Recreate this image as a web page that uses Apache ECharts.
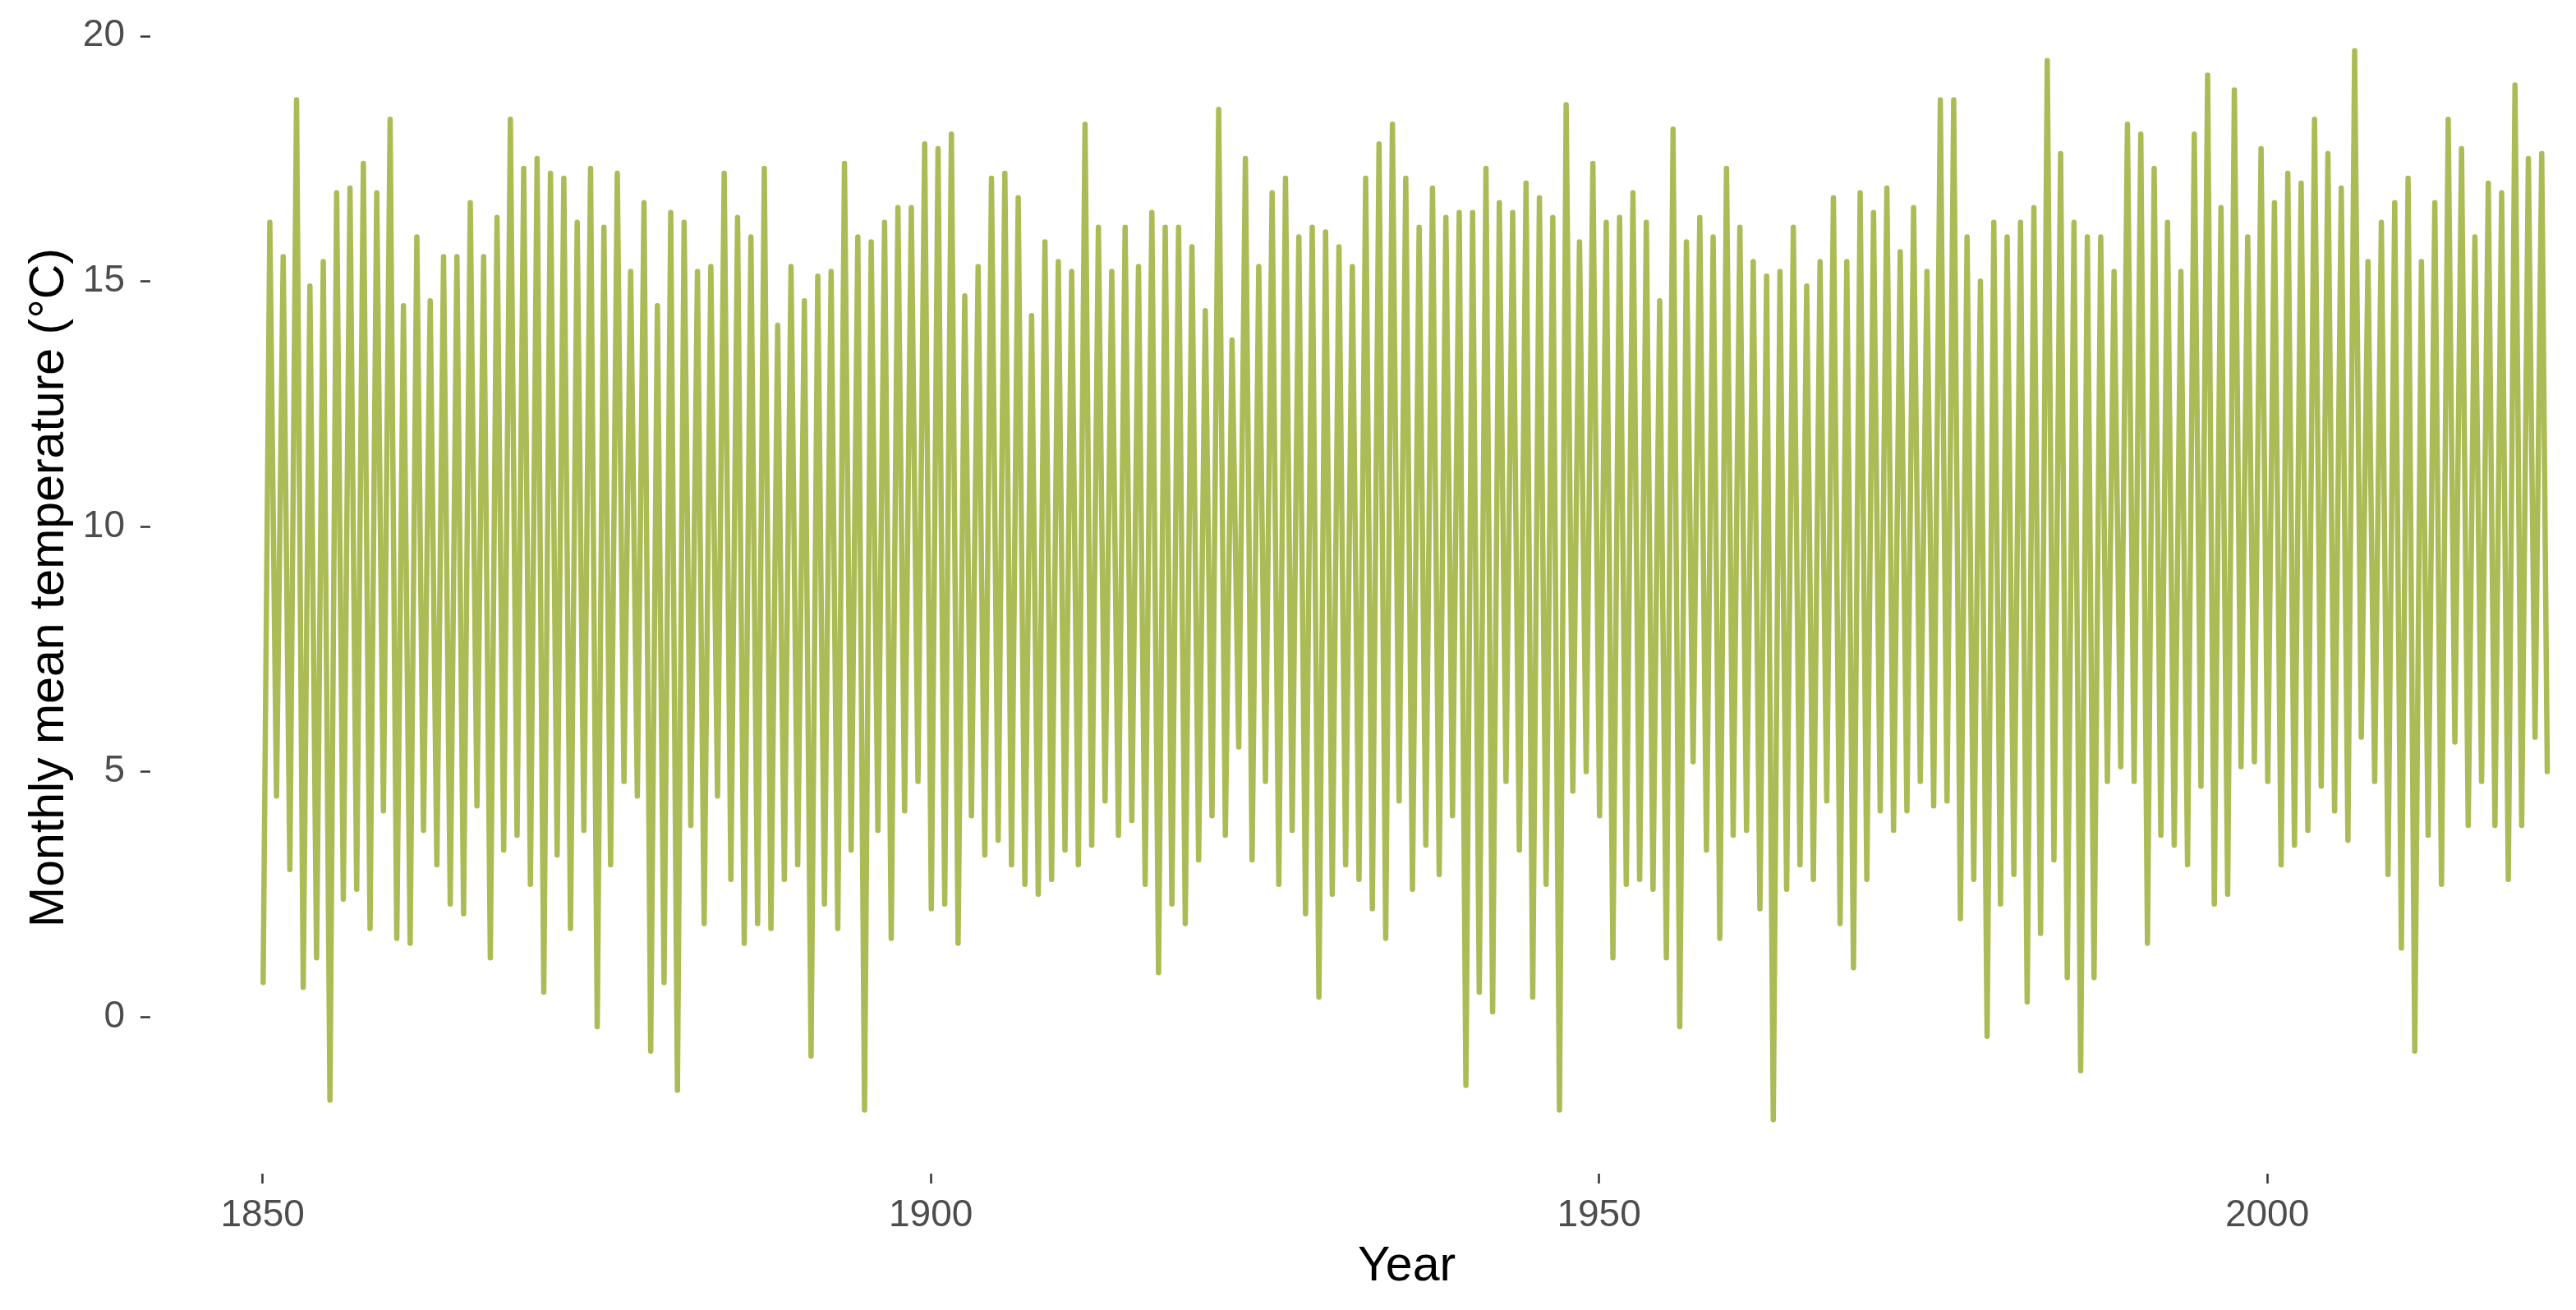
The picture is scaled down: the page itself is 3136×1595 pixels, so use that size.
<!DOCTYPE html>
<html>
<head>
<meta charset="utf-8">
<script src="https://cdn.jsdelivr.net/npm/echarts@6/dist/echarts.min.js"></script>
<style>
  html, body { margin: 0; padding: 0; background: #fff; }
  #chart { width: 3136px; height: 1595px; }
</style>
</head>
<body>
<div id="chart"></div>
<script>
// years shown, one winter low and one summer high for each
const firstYear = 1850
const lastYear = 2020

// coldest month of each winter (Jan of that year, deg C)
const winterMin = [
  0.7, 4.5, 3.0, 0.6, 1.2, -1.7, 2.4, 2.6, 1.8, 4.2,   // 1850s
  1.6, 1.5, 3.8, 3.1, 2.3, 2.1, 4.3, 1.2, 3.4, 3.7,    // 1860s
  2.7, 0.5, 3.3, 1.8, 3.8, -0.2, 3.1, 4.8, 4.5, -0.7,  // 1870s
  0.7, -1.5, 3.9, 1.9, 4.5, 2.8, 1.5, 1.9, 1.8, 2.8,   // 1880s
  3.1, -0.8, 2.3, 1.8, 3.4, -1.9, 3.8, 1.6, 4.2, 4.8,  // 1890s
  2.2, 2.3, 1.5, 4.1, 3.3, 3.6, 3.1, 2.7, 2.5, 2.8,    // 1900s
  3.4, 3.1, 3.5, 4.4, 3.7, 4.0, 2.7, 0.9, 2.3, 1.9,    // 1910s
  3.2, 4.1, 3.7, 5.5, 3.2, 4.8, 2.7, 3.8, 2.1, 0.4,    // 1920s
  2.5, 3.1, 2.8, 2.2, 1.6, 4.4, 2.6, 3.5, 2.9, 4.1,    // 1930s
  -1.4, 0.5, 0.1, 4.8, 3.4, 0.4, 2.7, -1.9, 4.6, 5.0,  // 1940s
  4.1, 1.2, 2.7, 2.8, 2.6, 1.2, -0.2, 5.2, 3.4, 1.6,   // 1950s
  3.7, 3.8, 2.2, -2.1, 2.6, 3.1, 2.8, 4.4, 1.9, 1.0,   // 1960s
  2.8, 4.2, 3.8, 4.2, 4.8, 4.3, 4.4, 2.0, 2.8, -0.4,   // 1970s
  2.3, 2.9, 0.3, 1.7, 3.2, 0.8, -1.1, 0.8, 4.8, 5.1,   // 1980s
  4.8, 1.5, 3.7, 3.5, 3.1, 4.7, 2.3, 2.5, 5.1, 5.2,    // 1990s
  4.8, 3.1, 3.5, 3.8, 4.7, 4.2, 3.6, 5.7, 4.8, 2.9,    // 2000s
  1.4, -0.7, 3.7, 2.7, 5.6, 3.9, 4.8, 3.9, 2.8, 3.9,   // 2010s
  5.7                                                  // 2020
]

// warmest month of each summer (Jul of that year, deg C)
const summerMax = [
  16.2, 15.5, 18.7, 14.9, 15.4, 16.8, 16.9, 17.4, 16.8, 18.3,  // 1850s
  14.5, 15.9, 14.6, 15.5, 15.5, 16.6, 15.5, 16.3, 18.3, 17.3,  // 1860s
  17.5, 17.2, 17.1, 16.2, 17.3, 16.1, 17.2, 15.2, 16.6, 14.5,  // 1870s
  16.4, 16.2, 15.2, 15.3, 17.2, 16.3, 15.9, 17.3, 14.1, 15.3,  // 1880s
  14.6, 15.1, 15.2, 17.4, 15.9, 15.8, 16.2, 16.5, 16.5, 17.8,  // 1890s
  17.7, 18.0, 14.7, 15.3, 17.1, 17.2, 16.7, 14.3, 15.8, 15.4,  // 1900s
  15.2, 18.2, 16.1, 15.2, 16.1, 15.3, 16.4, 16.1, 16.1, 15.7,  // 1910s
  14.4, 18.5, 13.8, 17.5, 15.3, 16.8, 17.1, 15.9, 16.1, 16.0,  // 1920s
  15.7, 15.3, 17.1, 17.8, 18.2, 17.1, 16.1, 16.9, 16.3, 16.4,  // 1930s
  16.4, 17.3, 16.6, 16.4, 17.0, 16.7, 16.3, 18.6, 15.8, 17.4,  // 1940s
  16.2, 16.3, 16.8, 16.2, 14.6, 18.1, 15.8, 16.3, 15.9, 17.3,  // 1950s
  16.1, 15.4, 15.1, 15.2, 16.1, 14.9, 15.4, 16.7, 15.4, 16.8,  // 1960s
  16.4, 16.9, 15.6, 16.5, 15.2, 18.7, 18.7, 15.9, 15.0, 16.2,  // 1970s
  15.9, 16.2, 16.5, 19.5, 17.6, 16.2, 15.9, 15.9, 15.2, 18.2,  // 1980s
  18.0, 17.3, 16.2, 15.2, 18.0, 19.2, 16.5, 18.9, 15.9, 17.7,  // 1990s
  16.6, 17.2, 17.0, 18.3, 17.6, 16.9, 19.7, 15.4, 16.2, 16.6,  // 2000s
  17.1, 15.4, 16.6, 18.3, 17.7, 15.9, 17.0, 16.8, 19.0, 17.5,  // 2010s
  17.6                                                         // 2020
]

// the series closes on December 2020
const lastMonthValue = 5.0

const yearTicks = [1850, 1900, 1950, 2000]
const tempTicks = [0, 5, 10, 15, 20]

// month (1-12) -> decimal year at mid-month
const at = (year, month) => year + (month - 0.5) / 12

const points = []
for (let i = 0; i <= lastYear - firstYear; i++) {
  const y = firstYear + i
  points.push([at(y, 1), winterMin[i]])
  points.push([at(y, 7), summerMax[i]])
}
points.push([at(lastYear, 12), lastMonthValue])

const font = 'Liberation Sans, Arial, sans-serif'
const chart = echarts.init(document.getElementById('chart'))
chart.setOption({
  animation: false,
  backgroundColor: '#ffffff',
  grid: { left: 183, right: 18, top: 2, bottom: 166 },
  xAxis: {
    type: 'value',
    min: 1841.6,
    max: 2022,
    name: 'Year',
    nameLocation: 'middle',
    nameGap: 84,
    nameTextStyle: { fontFamily: font, fontSize: 59, color: '#000', padding: [0, 0, 0, 124] },
    axisLine: { show: false, onZero: false },
    splitLine: { show: false },
    axisTick: { show: true, customValues: yearTicks, length: 12, lineStyle: { color: '#333333', width: 2.5 } },
    axisLabel: {
      customValues: yearTicks, formatter: v => String(v),
      fontFamily: font, fontSize: 46, color: '#4d4d4d', margin: 28
    }
  },
  yAxis: {
    type: 'value',
    min: -3.2,
    max: 20.7,
    name: 'Monthly mean temperature (°C)',
    nameLocation: 'middle',
    nameGap: 93,
    nameTextStyle: { fontFamily: font, fontSize: 59, color: '#000' },
    axisLine: { show: false, onZero: false },
    splitLine: { show: false },
    axisTick: { show: true, customValues: tempTicks, length: 12, lineStyle: { color: '#333333', width: 2.5 } },
    axisLabel: { customValues: tempTicks, fontFamily: font, fontSize: 46, color: '#4d4d4d', margin: 31 }
  },
  series: [{
    type: 'line',
    data: points,
    showSymbol: false,
    lineStyle: { color: '#abbb56', width: 6.5, join: 'round', cap: 'round' }
  }]
})
</script>
</body>
</html>
